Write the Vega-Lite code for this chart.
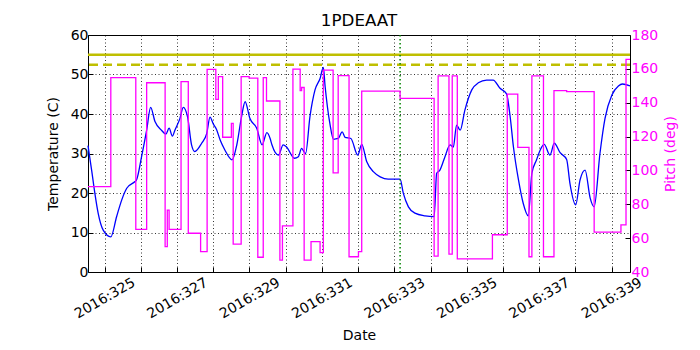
{
  "$schema": "https://vega.github.io/schema/vega-lite/v6.json",
  "autosize": {"type": "none"},
  "width": 542,
  "height": 237,
  "padding": {"left": 88, "top": 35, "right": 70, "bottom": 78},
  "background": "white",
  "title": {"text": "1PDEAAT", "fontSize": 16.7, "fontWeight": "normal", "font": "DejaVu Sans", "offset": -2, "color": "black"},
  "config": {
    "view": {"stroke": "black", "strokeWidth": 1},
    "font": "DejaVu Sans",
    "axis": {
      "labelFont": "DejaVu Sans", "labelFontSize": 14, "labelColor": "black",
      "titleFont": "DejaVu Sans", "titleFontSize": 14, "titleFontWeight": "normal", "titleColor": "black",
      "domain": false, "tickColor": "black", "tickSize": -5, "labelOverlap": false,
      "gridColor": "black", "gridDash": [1, 2.5], "gridOpacity": 1, "gridWidth": 0.8
    }
  },
  "datasets": {
    "temp": [
      {"day": 324.54, "temp": 32.0}, {"day": 324.64, "temp": 25.8}, {"day": 324.73, "temp": 19.9}, {"day": 324.82, "temp": 14.9},
      {"day": 324.96, "temp": 10.6}, {"day": 325.17, "temp": 8.9}, {"day": 325.33, "temp": 14.0}, {"day": 325.47, "temp": 18.2},
      {"day": 325.61, "temp": 21.2}, {"day": 325.84, "temp": 22.9}, {"day": 325.88, "temp": 23.3}, {"day": 326.02, "temp": 29.2},
      {"day": 326.16, "temp": 35.9}, {"day": 326.27, "temp": 41.7}, {"day": 326.39, "temp": 38.1}, {"day": 326.57, "temp": 35.9},
      {"day": 326.69, "temp": 34.9}, {"day": 326.78, "temp": 36.4}, {"day": 326.87, "temp": 34.4}, {"day": 326.94, "temp": 35.9},
      {"day": 327.08, "temp": 38.9}, {"day": 327.17, "temp": 41.7}, {"day": 327.29, "temp": 39.3}, {"day": 327.40, "temp": 32.2},
      {"day": 327.49, "temp": 30.5}, {"day": 327.68, "temp": 32.6}, {"day": 327.82, "temp": 35.1}, {"day": 327.91, "temp": 39.2},
      {"day": 328.00, "temp": 37.5}, {"day": 328.09, "temp": 36.1}, {"day": 328.19, "temp": 33.4}, {"day": 328.32, "temp": 30.9},
      {"day": 328.52, "temp": 28.4}, {"day": 328.65, "temp": 32.2}, {"day": 328.78, "temp": 39.3}, {"day": 328.88, "temp": 43.1},
      {"day": 329.01, "temp": 38.9}, {"day": 329.20, "temp": 36.4}, {"day": 329.35, "temp": 32.2}, {"day": 329.48, "temp": 35.3},
      {"day": 329.57, "temp": 33.8}, {"day": 329.62, "temp": 32.2}, {"day": 329.80, "temp": 29.6}, {"day": 329.93, "temp": 32.2},
      {"day": 330.03, "temp": 31.6}, {"day": 330.24, "temp": 28.8}, {"day": 330.35, "temp": 29.2}, {"day": 330.44, "temp": 31.3},
      {"day": 330.49, "temp": 30.7}, {"day": 330.55, "temp": 30.0}, {"day": 330.67, "temp": 39.3}, {"day": 330.81, "temp": 46.1},
      {"day": 330.95, "temp": 49.0}, {"day": 331.04, "temp": 51.8}, {"day": 331.09, "temp": 46.9}, {"day": 331.22, "temp": 37.6},
      {"day": 331.32, "temp": 33.6}, {"day": 331.45, "temp": 33.8}, {"day": 331.56, "temp": 35.5}, {"day": 331.64, "temp": 34.1},
      {"day": 331.80, "temp": 33.8}, {"day": 331.99, "temp": 29.6}, {"day": 332.10, "temp": 32.3}, {"day": 332.24, "temp": 27.9},
      {"day": 332.42, "temp": 25.4}, {"day": 332.61, "temp": 24.1}, {"day": 332.83, "temp": 23.5}, {"day": 333.16, "temp": 23.5},
      {"day": 333.25, "temp": 19.9}, {"day": 333.39, "temp": 16.5}, {"day": 333.57, "temp": 14.9}, {"day": 333.85, "temp": 14.2},
      {"day": 334.10, "temp": 14.0}, {"day": 334.17, "temp": 25.0}, {"day": 334.26, "temp": 25.8}, {"day": 334.40, "temp": 29.2},
      {"day": 334.54, "temp": 32.2}, {"day": 334.63, "temp": 31.6}, {"day": 334.72, "temp": 37.2}, {"day": 334.82, "temp": 35.9},
      {"day": 334.95, "temp": 41.0}, {"day": 335.14, "temp": 46.1}, {"day": 335.32, "temp": 47.9}, {"day": 335.55, "temp": 48.6},
      {"day": 335.73, "temp": 48.6}, {"day": 335.92, "temp": 46.5}, {"day": 336.10, "temp": 45.1}, {"day": 336.20, "temp": 39.3},
      {"day": 336.29, "temp": 31.7}, {"day": 336.43, "temp": 23.3}, {"day": 336.56, "temp": 17.4}, {"day": 336.70, "temp": 14.2},
      {"day": 336.80, "temp": 25.0}, {"day": 336.93, "temp": 28.4}, {"day": 337.03, "temp": 30.9}, {"day": 337.14, "temp": 32.3},
      {"day": 337.30, "temp": 29.6}, {"day": 337.42, "temp": 32.6}, {"day": 337.58, "temp": 30.2}, {"day": 337.76, "temp": 28.5},
      {"day": 337.85, "temp": 22.5}, {"day": 338.01, "temp": 17.0}, {"day": 338.13, "temp": 23.3}, {"day": 338.27, "temp": 25.8},
      {"day": 338.41, "temp": 18.7}, {"day": 338.52, "temp": 16.5}, {"day": 338.68, "temp": 30.0}, {"day": 338.82, "temp": 38.9},
      {"day": 339.01, "temp": 44.8}, {"day": 339.19, "temp": 47.1}, {"day": 339.30, "temp": 47.6}, {"day": 339.51, "temp": 47.1}
    ],
    "pitch": [
      {"day": 324.54, "pitch": 90.4}, {"day": 325.17, "pitch": 154.8}, {"day": 325.86, "pitch": 65.2}, {"day": 326.16, "pitch": 151.8},
      {"day": 326.67, "pitch": 55.0}, {"day": 326.73, "pitch": 76.6}, {"day": 326.78, "pitch": 65.2}, {"day": 327.11, "pitch": 152.4},
      {"day": 327.31, "pitch": 62.9}, {"day": 327.65, "pitch": 52.0}, {"day": 327.83, "pitch": 159.7}, {"day": 328.07, "pitch": 142.0},
      {"day": 328.14, "pitch": 155.4}, {"day": 328.26, "pitch": 119.6}, {"day": 328.50, "pitch": 127.8}, {"day": 328.55, "pitch": 56.5},
      {"day": 328.77, "pitch": 155.4}, {"day": 328.99, "pitch": 154.5}, {"day": 329.23, "pitch": 48.7}, {"day": 329.38, "pitch": 154.8},
      {"day": 329.47, "pitch": 141.0}, {"day": 329.84, "pitch": 47.0}, {"day": 329.91, "pitch": 67.3}, {"day": 330.20, "pitch": 159.9},
      {"day": 330.40, "pitch": 147.1}, {"day": 330.44, "pitch": 149.0}, {"day": 330.51, "pitch": 47.0}, {"day": 330.70, "pitch": 57.9},
      {"day": 330.95, "pitch": 51.4}, {"day": 331.04, "pitch": 159.3}, {"day": 331.31, "pitch": 98.6}, {"day": 331.45, "pitch": 156.0},
      {"day": 331.75, "pitch": 49.0}, {"day": 332.01, "pitch": 52.0}, {"day": 332.10, "pitch": 146.9}, {"day": 333.16, "pitch": 142.6},
      {"day": 334.10, "pitch": 49.4}, {"day": 334.21, "pitch": 155.8}, {"day": 334.51, "pitch": 50.6}, {"day": 334.60, "pitch": 155.8},
      {"day": 334.74, "pitch": 47.7}, {"day": 335.71, "pitch": 62.0}, {"day": 336.12, "pitch": 145.1}, {"day": 336.41, "pitch": 113.6},
      {"day": 336.72, "pitch": 49.0}, {"day": 336.80, "pitch": 155.8}, {"day": 337.12, "pitch": 49.0}, {"day": 337.41, "pitch": 147.1},
      {"day": 337.76, "pitch": 146.5}, {"day": 338.52, "pitch": 63.6}, {"day": 339.26, "pitch": 67.8}, {"day": 339.40, "pitch": 165.6},
      {"day": 339.51, "pitch": 165.6}
    ],
    "limits": [
      {"limit": "planning", "value": 55.0},
      {"limit": "caution", "value": 52.5}
    ],
    "marker": [
      {"day": 333.16}
    ]
  },
  "layer": [
    {
      "layer": [
        {
          "data": {"name": "temp"},
          "mark": {"type": "line", "color": "#0000ff", "strokeWidth": 1.3, "interpolate": "monotone"},
          "encoding": {
            "x": {
              "field": "day", "type": "quantitative",
              "scale": {"domain": [324.54, 339.51], "nice": false, "zero": false},
              "axis": {
                "title": "Date",
                "values": [325, 326, 327, 328, 329, 330, 331, 332, 333, 334, 335, 336, 337, 338, 339],
                "tickCount": 40,
                "labelExpr": "datum.value % 2 == 1 ? '2016:' + datum.value : ''",
                "grid": true, "labelAngle": -30, "labelAlign": "center", "labelBaseline": "middle",
                "labelPadding": 31, "titlePadding": 8, "labelFlush": false, "labelOverlap": false
              }
            },
            "y": {
              "field": "temp", "type": "quantitative",
              "scale": {"domain": [0, 60], "nice": false},
              "axis": {"title": "Temperature (C)", "values": [0, 10, 20, 30, 40, 50, 60], "tickCount": 20, "grid": true, "labelPadding": 5, "titlePadding": 10, "labelOverlap": false}
            }
          }
        },
        {
          "data": {"name": "limits"},
          "mark": {"type": "rule", "color": "#bfbf00", "strokeWidth": 2.5},
          "encoding": {
            "y": {"field": "value", "type": "quantitative"},
            "strokeDash": {"field": "limit", "type": "nominal", "scale": {"domain": ["planning", "caution"], "range": [[1, 0], [9, 5]]}, "legend": null}
          }
        },
        {
          "data": {"name": "marker"},
          "mark": {"type": "rule", "color": "#008000", "strokeWidth": 1.5, "strokeDash": [1.5, 2.5]},
          "encoding": {"x": {"field": "day", "type": "quantitative"}}
        }
      ]
    },
    {
      "data": {"name": "pitch"},
      "mark": {"type": "line", "color": "#ff00ff", "strokeWidth": 1.3, "interpolate": "step-after"},
      "encoding": {
        "x": {"field": "day", "type": "quantitative"},
        "y": {
          "field": "pitch", "type": "quantitative",
          "scale": {"domain": [40, 180], "nice": false, "zero": false},
          "axis": {"title": "Pitch (deg)", "orient": "right", "values": [40, 60, 80, 100, 120, 140, 160, 180], "tickCount": 20, "grid": false,
                   "labelColor": "#ff00ff", "titleColor": "#ff00ff", "labelPadding": 6, "titleAngle": -90, "titlePadding": 20, "labelOverlap": false}
        }
      }
    }
  ],
  "resolve": {"scale": {"y": "independent"}}
}
